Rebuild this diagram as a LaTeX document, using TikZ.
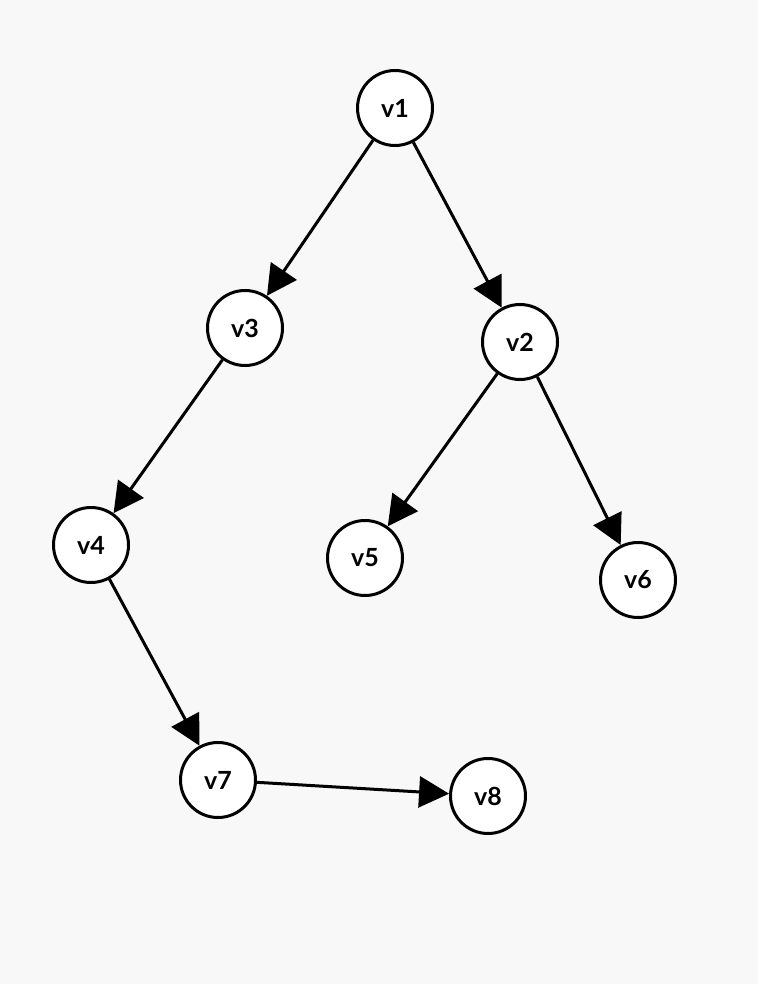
\documentclass[tikz,border=0pt]{standalone}
\usepackage{fontspec}
\setmainfont{Lato}
\usetikzlibrary{arrows.meta}
\begin{document}
\begin{tikzpicture}[x=1pt,y=-1pt,
  vnode/.style={circle,draw=black,fill=white,line width=3pt,minimum size=75pt,inner sep=0pt,font=\fontsize{25}{29}\selectfont\bfseries},
  edge/.style={line width=3pt,-{Triangle[length=30pt,width=31pt]}}]
\fill[fill={rgb,255:red,248;green,248;blue,248}] (0,0) rectangle (758,984);
\useasboundingbox (0,0) rectangle (758,984);
\node[vnode] (v1) at (395,108) {v1};
\node[vnode] (v3) at (245,328) {v3};
\node[vnode] (v2) at (520,342) {v2};
\node[vnode] (v4) at (91,545) {v4};
\node[vnode] (v5) at (365,558) {v5};
\node[vnode] (v6) at (638,580) {v6};
\node[vnode] (v7) at (218,780) {v7};
\node[vnode] (v8) at (488,796) {v8};
\draw[edge] (v1) -- (v3);
\draw[edge] (v1) -- (v2);
\draw[edge] (v3) -- (v4);
\draw[edge] (v2) -- (v5);
\draw[edge] (v2) -- (v6);
\draw[edge] (v4) -- (v7);
\draw[edge] (v7) -- (v8);
\end{tikzpicture}
\end{document}
